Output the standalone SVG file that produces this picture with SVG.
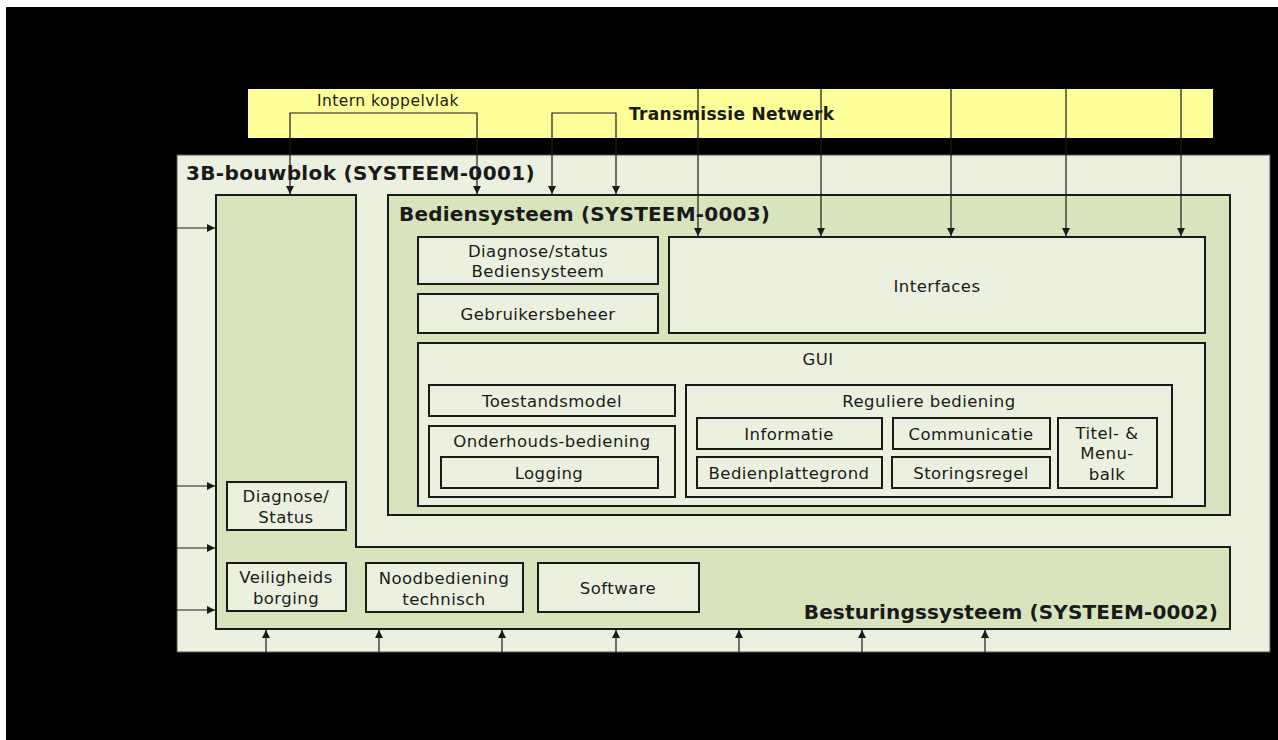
<svg xmlns="http://www.w3.org/2000/svg" width="1278" height="740" viewBox="0 0 1278 740">
<defs>
<style>
text{font-family:"DejaVu Sans","Liberation Sans",sans-serif;fill:#1a1a1a}
.t{font-size:16.5px;letter-spacing:0.45px;text-anchor:middle}
.h{font-size:20px;font-weight:bold;letter-spacing:0.35px}
.box{fill:#ebf1de;stroke:#1a1a1a;stroke-width:2}
.grp{fill:#d7e4bd;stroke:#1a1a1a;stroke-width:2}
.c{fill:none;stroke:#1a1a1a;stroke-width:1.2}
</style>
<marker id="ah" viewBox="0 0 10 10" refX="10" refY="5" markerWidth="8" markerHeight="8" markerUnits="userSpaceOnUse" orient="auto-start-reverse">
<path d="M0,0 L10,5 L0,10 z" fill="#1a1a1a"/>
</marker>
</defs>
<rect x="0" y="0" width="1278" height="740" fill="#ffffff"/>
<rect x="6" y="7" width="1272" height="733" fill="#000000"/>

<g id="transmissie-netwerk">
<rect x="248" y="89" width="965" height="49" fill="#ffff99"/>
<text x="317" y="106" style="font-size:15.5px;letter-spacing:0.45px">Intern koppelvlak</text>
<text x="629" y="120" style="font-size:17px;font-weight:bold;letter-spacing:0.3px">Transmissie Netwerk</text>
</g>

<g id="bouwblok">
<rect x="177" y="155" width="1093" height="497" fill="#ebf1de" stroke="#555" stroke-width="1"/>
<text x="186" y="180" class="h">3B-bouwblok (SYSTEEM-0001)</text>
</g>

<g id="besturingssysteem">
<path d="M216,195 H356 V547 H1230 V629 H216 Z" class="grp"/>
<text x="1218" y="619" class="h" text-anchor="end" style="letter-spacing:0.15px">Besturingssysteem (SYSTEEM-0002)</text>
</g>

<g id="bediensysteem">
<rect x="388" y="195" width="842" height="320" class="grp"/>
<text x="399" y="221" class="h" style="letter-spacing:0.2px">Bediensysteem (SYSTEEM-0003)</text>
</g>

<g id="diagnose-bediensysteem">
<rect x="418" y="237" width="240" height="47" class="box"/>
<text x="538" y="257" class="t">Diagnose/status</text>
<text x="538" y="277" class="t">Bediensysteem</text>
</g>
<g id="gebruikersbeheer">
<rect x="418" y="294" width="240" height="39" class="box"/>
<text x="538" y="320" class="t">Gebruikersbeheer</text>
</g>
<g id="interfaces">
<rect x="669" y="237" width="536" height="96" class="box"/>
<text x="937" y="292" class="t">Interfaces</text>
</g>
<g id="gui">
<rect x="418" y="343" width="787" height="163" class="box"/>
<text x="818" y="365" class="t">GUI</text>
</g>
<g id="toestandsmodel">
<rect x="429" y="385" width="246" height="31" class="box"/>
<text x="552" y="407" class="t">Toestandsmodel</text>
</g>
<g id="onderhouds-bediening">
<rect x="429" y="426" width="246" height="71" class="box"/>
<text x="552" y="447" class="t">Onderhouds-bediening</text>
</g>
<g id="logging">
<rect x="441" y="457" width="217" height="31" class="box"/>
<text x="549" y="479" class="t">Logging</text>
</g>
<g id="reguliere-bediening">
<rect x="686" y="385" width="486" height="112" class="box"/>
<text x="929" y="407" class="t">Reguliere bediening</text>
</g>
<g id="informatie">
<rect x="697" y="418" width="185" height="31" class="box"/>
<text x="789" y="440" class="t">Informatie</text>
</g>
<g id="communicatie">
<rect x="893" y="418" width="157" height="31" class="box"/>
<text x="971" y="440" class="t">Communicatie</text>
</g>
<g id="bedienplattegrond">
<rect x="697" y="457" width="185" height="31" class="box"/>
<text x="789" y="479" class="t">Bedienplattegrond</text>
</g>
<g id="storingsregel">
<rect x="892" y="457" width="158" height="31" class="box"/>
<text x="971" y="479" class="t">Storingsregel</text>
</g>
<g id="titel-menubalk">
<rect x="1058" y="418" width="99" height="70" class="box"/>
<text x="1107" y="439" class="t">Titel- &amp;</text>
<text x="1107" y="459" class="t">Menu-</text>
<text x="1107" y="480" class="t">balk</text>
</g>

<g id="diagnose-status">
<rect x="227" y="482" width="119" height="48" class="box"/>
<text x="286" y="502" class="t">Diagnose/</text>
<text x="286" y="523" class="t">Status</text>
</g>
<g id="veiligheidsborging">
<rect x="227" y="563" width="119" height="48" class="box"/>
<text x="286" y="583" class="t">Veiligheids</text>
<text x="286" y="604" class="t">borging</text>
</g>
<g id="noodbediening">
<rect x="366" y="563" width="157" height="49" class="box"/>
<text x="444" y="584" class="t">Noodbediening</text>
<text x="444" y="605" class="t">technisch</text>
</g>
<g id="software">
<rect x="538" y="563" width="161" height="49" class="box"/>
<text x="618" y="594" class="t">Software</text>
</g>

<g id="connectors">
<path d="M290,194 V113 H477 V194" class="c" marker-end="url(#ah)" marker-start="url(#ah)"/>
<path d="M552,194 V113 H616 V194" class="c" marker-end="url(#ah)" marker-start="url(#ah)"/>
<line x1="698" y1="89" x2="698" y2="236" class="c" marker-end="url(#ah)"/>
<line x1="821" y1="89" x2="821" y2="236" class="c" marker-end="url(#ah)"/>
<line x1="951" y1="89" x2="951" y2="236" class="c" marker-end="url(#ah)"/>
<line x1="1066" y1="89" x2="1066" y2="236" class="c" marker-end="url(#ah)"/>
<line x1="1181" y1="89" x2="1181" y2="236" class="c" marker-end="url(#ah)"/>
<line x1="177" y1="228" x2="215" y2="228" class="c" marker-end="url(#ah)"/>
<line x1="177" y1="486" x2="215" y2="486" class="c" marker-end="url(#ah)"/>
<line x1="177" y1="548" x2="215" y2="548" class="c" marker-end="url(#ah)"/>
<line x1="177" y1="610" x2="215" y2="610" class="c" marker-end="url(#ah)"/>
<line x1="266" y1="652" x2="266" y2="630" class="c" marker-end="url(#ah)"/>
<line x1="379" y1="652" x2="379" y2="630" class="c" marker-end="url(#ah)"/>
<line x1="502" y1="652" x2="502" y2="630" class="c" marker-end="url(#ah)"/>
<line x1="616" y1="652" x2="616" y2="630" class="c" marker-end="url(#ah)"/>
<line x1="739" y1="652" x2="739" y2="630" class="c" marker-end="url(#ah)"/>
<line x1="862" y1="652" x2="862" y2="630" class="c" marker-end="url(#ah)"/>
<line x1="985" y1="652" x2="985" y2="630" class="c" marker-end="url(#ah)"/>
</g>
</svg>
